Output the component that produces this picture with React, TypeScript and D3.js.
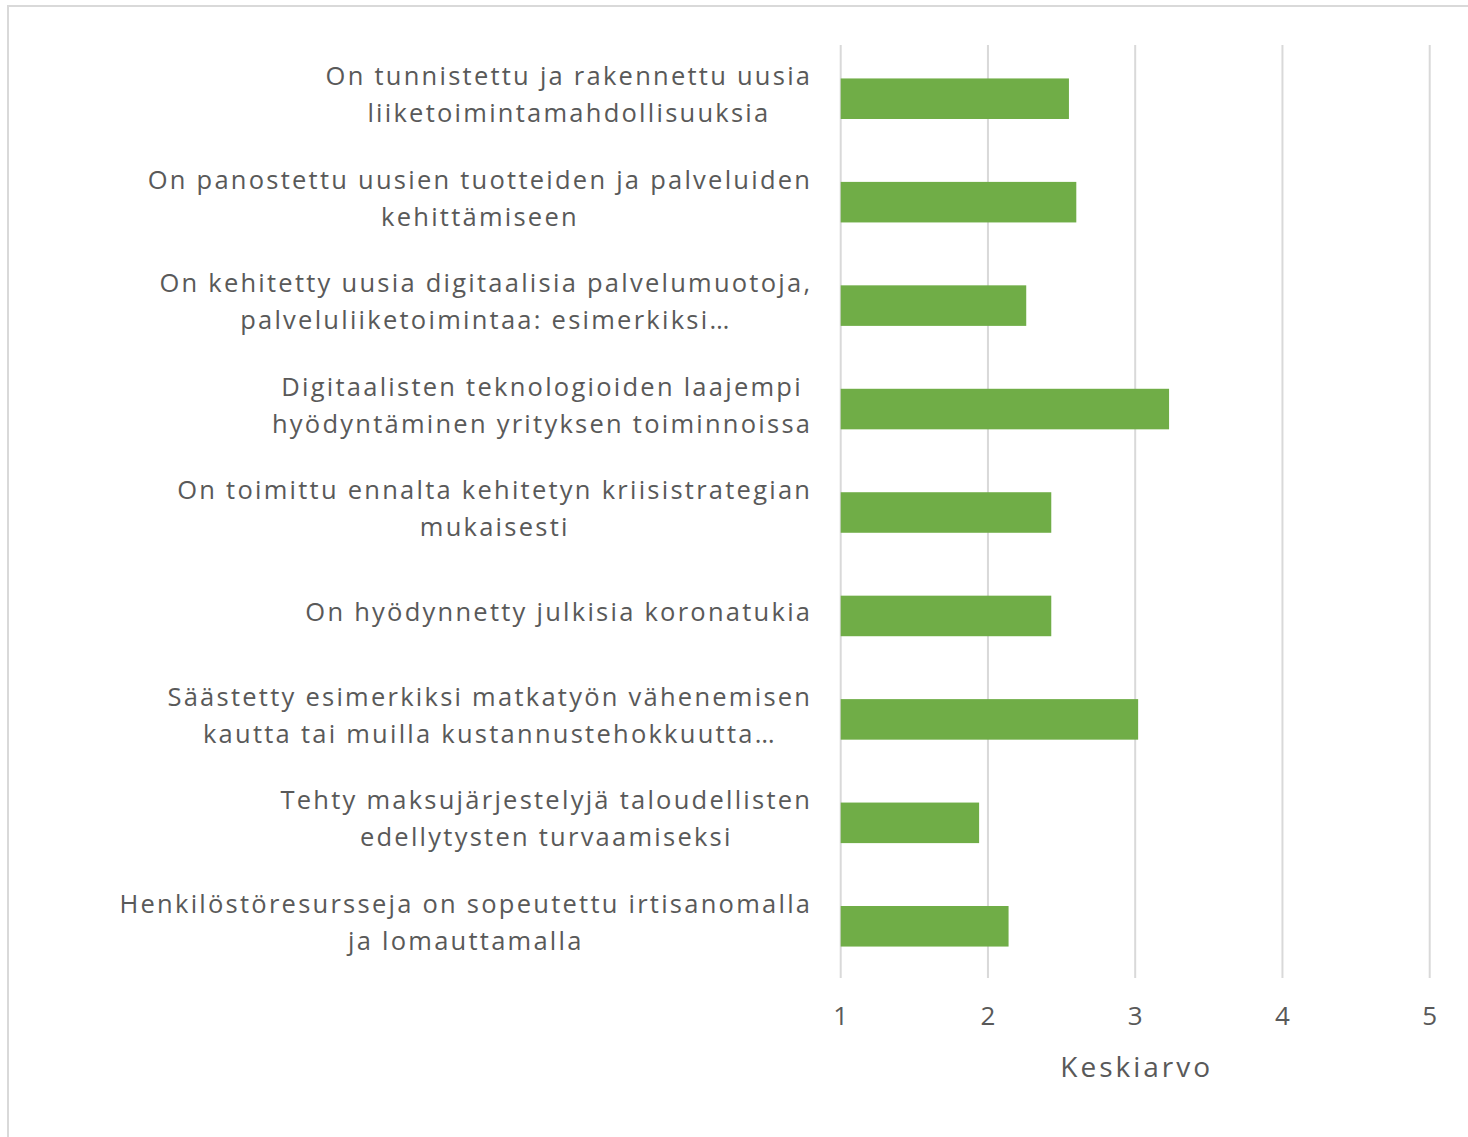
import React from "react";
import * as d3 from "d3";

const categories: string[][] = [
  ["On tunnistettu ja rakennettu uusia", "liiketoimintamahdollisuuksia"],
  ["On panostettu uusien tuotteiden ja palveluiden", "kehittämiseen"],
  ["On kehitetty uusia digitaalisia palvelumuotoja,", "palveluliiketoimintaa: esimerkiksi…"],
  ["Digitaalisten teknologioiden laajempi", "hyödyntäminen yrityksen toiminnoissa"],
  ["On toimittu ennalta kehitetyn kriisistrategian", "mukaisesti"],
  ["On hyödynnetty julkisia koronatukia"],
  ["Säästetty esimerkiksi matkatyön vähenemisen", "kautta tai muilla kustannustehokkuutta…"],
  ["Tehty maksujärjestelyjä taloudellisten", "edellytysten turvaamiseksi"],
  ["Henkilöstöresursseja on sopeutettu irtisanomalla", "ja lomauttamalla"],
];

const values: number[] = [2.55, 2.6, 2.26, 3.23, 2.43, 2.43, 3.02, 1.94, 2.14];

const xTicks: number[] = [1, 2, 3, 4, 5];
const xTitle = "Keskiarvo";

const W = 1468;
const H = 1137;
const FONT = "'Open Sans', 'DejaVu Sans', sans-serif";
const LABEL_SIZE = 25.5;
const LABEL_SPACING = 2.25;
const TEXT_COLOR = "#595959";
const GRID_COLOR = "#d9d9d9";
const BAR_COLOR = "#70AD47";

let measureCtx: CanvasRenderingContext2D | null = null;
function measure(text: string, size: number, spacing: number): number {
  if (!measureCtx) {
    const c = document.createElement("canvas");
    measureCtx = c.getContext("2d");
  }
  const chars = Array.from(text).length;
  if (!measureCtx) return text.length * size * 0.55 + chars * spacing;
  measureCtx.font = `${size}px ${FONT}`;
  return measureCtx.measureText(text).width + (chars - 1) * spacing;
}

export default function App() {
  const plotLeft = 840.7;
  const plotRight = 1429.7;
  const gridTop = 45;
  const gridBottom = 978;

  const x = d3.scaleLinear().domain([1, 5]).range([plotLeft, plotRight]);
  const y = d3
    .scaleBand<number>()
    .domain(d3.range(categories.length))
    .range([47, 978])
    .paddingInner(0.608)
    .paddingOuter(0.304);

  const labelRight = 810;
  const lineGap = 37;

  return (
    <svg
      width={W}
      height={H}
      style={{ position: "absolute", left: 0, top: 0, background: "#fff" }}
    >
      <rect x={0} y={0} width={W} height={H} fill="#fff" />
      <rect
        x={8}
        y={6}
        width={W + 20}
        height={H + 20}
        fill="#fff"
        stroke={GRID_COLOR}
        strokeWidth={2}
      />
      {xTicks.map((t) => (
        <line
          key={"g" + t}
          x1={x(t)}
          x2={x(t)}
          y1={gridTop}
          y2={gridBottom}
          stroke={GRID_COLOR}
          strokeWidth={2}
        />
      ))}
      {values.map((v, i) => (
        <rect
          key={"b" + i}
          x={x(1)}
          y={y(i)!}
          width={x(v) - x(1)}
          height={y.bandwidth()}
          fill={BAR_COLOR}
        />
      ))}
      {categories.map((lines, i) => {
        const maxW = Math.max(...lines.map((l) => measure(l, LABEL_SIZE, LABEL_SPACING)));
        const cx = labelRight - maxW / 2;
        const cy = y(i)! + y.bandwidth() / 2;
        const n = lines.length;
        return (
          <text
            key={"l" + i}
            textAnchor="middle"
            fontFamily={FONT}
            fontSize={LABEL_SIZE}
            letterSpacing={LABEL_SPACING}
            fill={TEXT_COLOR}
          >
            {lines.map((l, j) => (
              <tspan
                key={j}
                x={cx + LABEL_SPACING / 2}
                y={cy + (j - (n - 1) / 2) * lineGap - (n === 1 ? 5 : 5)}
                dominantBaseline="central"
              >
                {l}
              </tspan>
            ))}
          </text>
        );
      })}
      {xTicks.map((t) => (
        <text
          key={"t" + t}
          x={x(t)}
          y={1015}
          textAnchor="middle"
          dominantBaseline="central"
          fontFamily={FONT}
          fontSize={26}
          fill={TEXT_COLOR}
        >
          {t}
        </text>
      ))}
      <text
        x={(plotLeft + plotRight) / 2 + 1.5}
        y={1066}
        textAnchor="middle"
        dominantBaseline="central"
        fontFamily={FONT}
        fontSize={28}
        letterSpacing={3}
        fill={TEXT_COLOR}
      >
        {xTitle}
      </text>
    </svg>
  );
}
